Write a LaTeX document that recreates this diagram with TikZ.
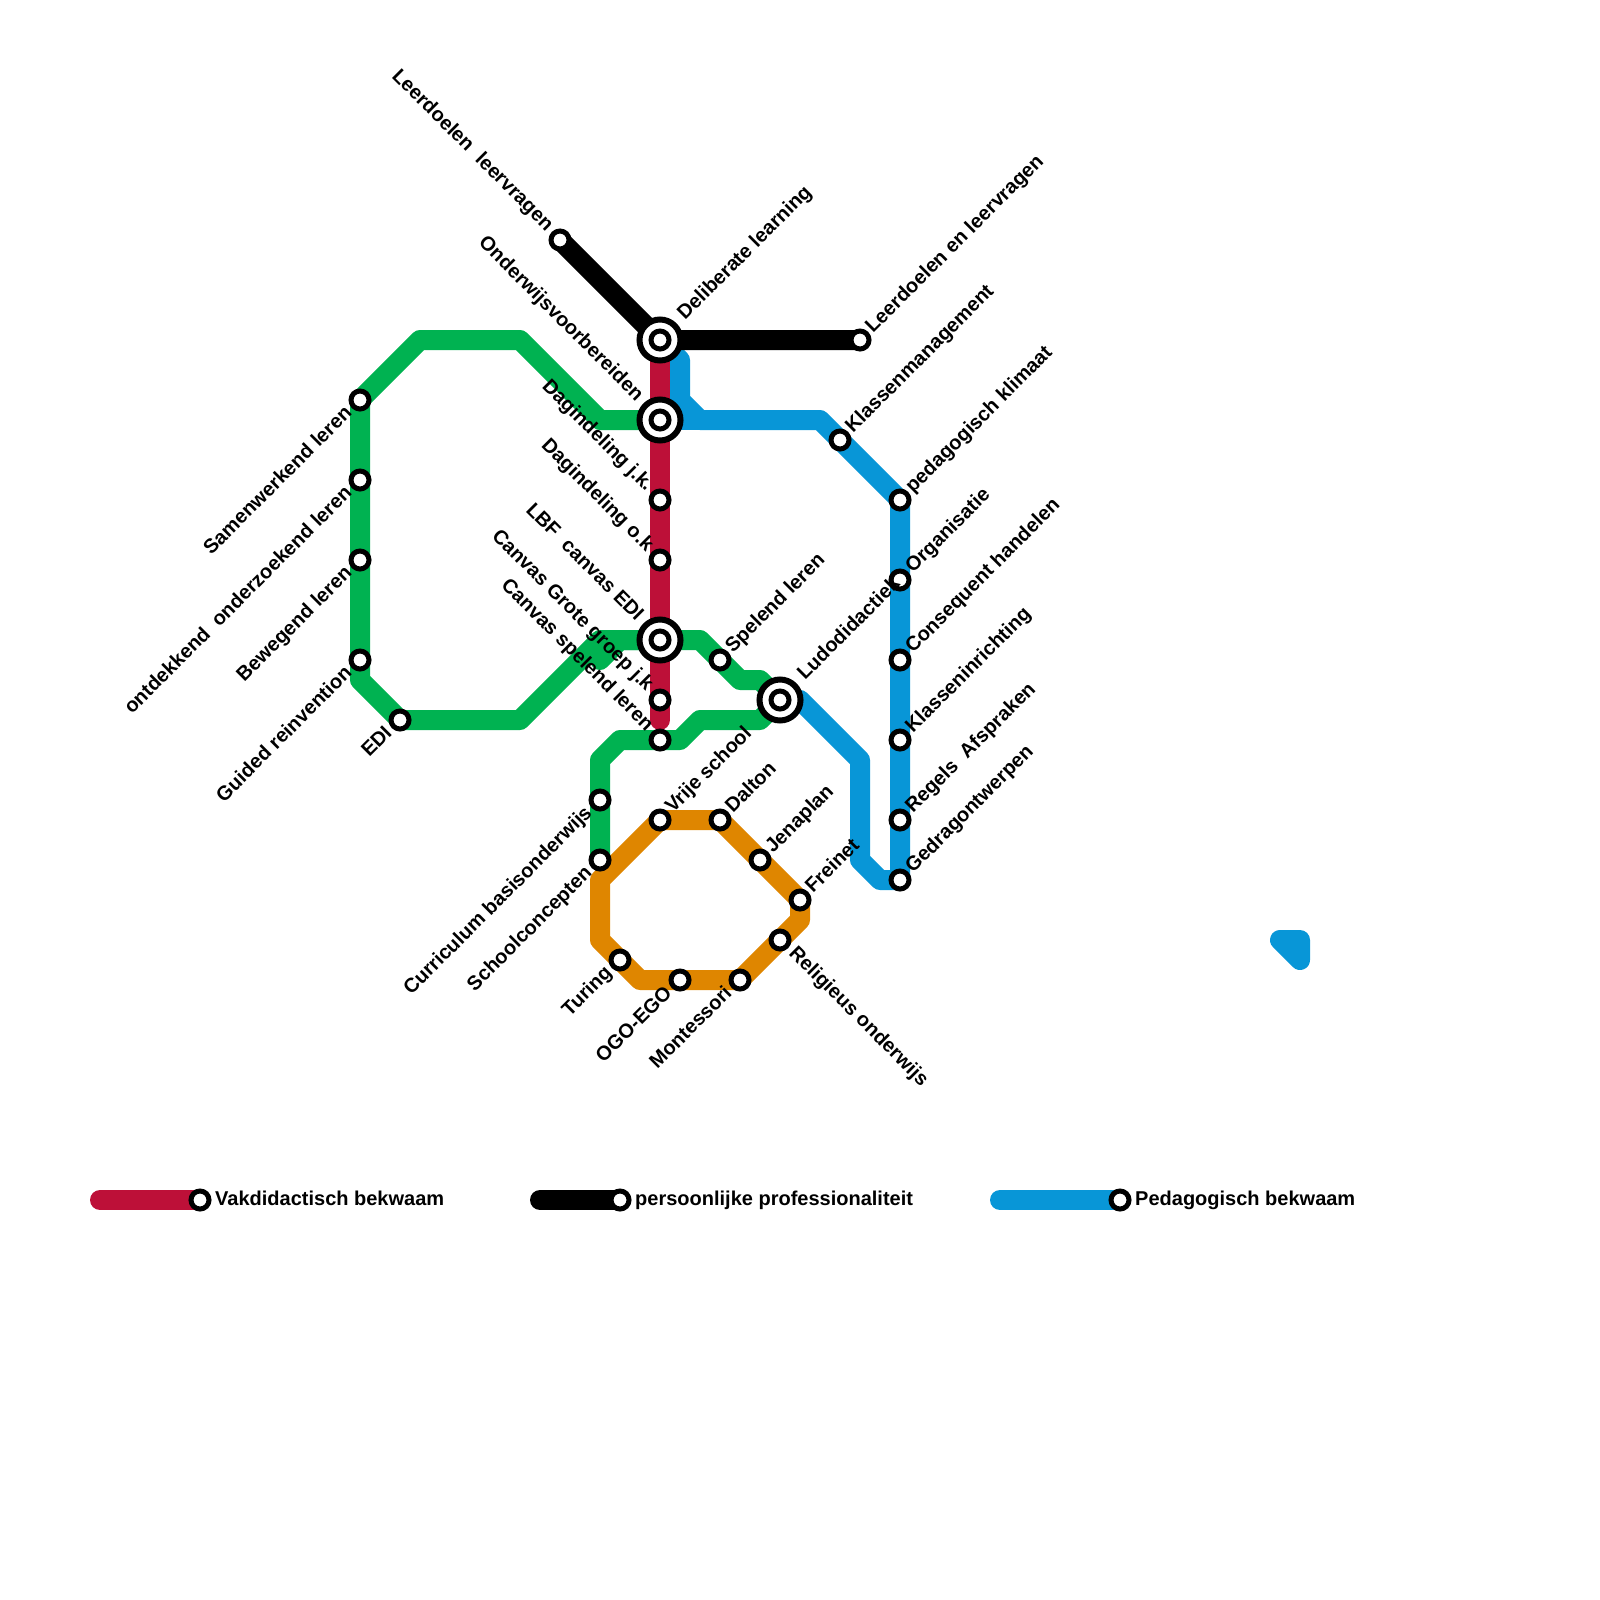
\documentclass[tikz,border=0pt]{standalone}
\usepackage{fontspec}
\setmainfont{Liberation Sans}
\pgfdeclarelayer{bg}
\pgfsetlayers{bg,main}
\definecolor{cred}{HTML}{BD1038}
\definecolor{cblue}{HTML}{0896D7}
\definecolor{cgreen}{HTML}{00B251}
\definecolor{corange}{HTML}{DF8600}
\tikzset{
  ln/.style={line width=20bp,line cap=round,line join=round},
  st/.style={circle,draw=black,fill=white,line width=5bp,minimum size=18bp,inner sep=0pt,outer sep=0pt},
  big/.style={circle,draw=black,fill=white,line width=6bp,minimum size=41bp,inner sep=0pt,outer sep=0pt},
  txt/.style={font=\fontsize{20bp}{24bp}\selectfont\bfseries,inner sep=0pt,text=black},
  ne/.style={txt,rotate=45,anchor=base west},
  nw/.style={txt,rotate=-45,anchor=base east},
  sw/.style={txt,rotate=45,anchor=base east},
  se/.style={txt,rotate=-45,anchor=base west},
  lg/.style={txt,anchor=base west},
}
\newcommand{\NE}[2]{\node[ne] at ([shift={(13,-6)}]#1.center) {#2};}
\newcommand{\NEb}[2]{\node[ne] at ([shift={(25,-19)}]#1.center) {#2};}
\newcommand{\NW}[2]{\node[nw] at ([shift={(-14,-8)}]#1.center) {#2};}
\newcommand{\NWb}[2]{\node[nw] at ([shift={(-24,-18)}]#1.center) {#2};}
\newcommand{\SW}[2]{\node[sw] at ([shift={(-7,14)}]#1.center) {#2};}
\newcommand{\SE}[2]{\node[se] at ([shift={(8,14)}]#1.center) {#2};}
\begin{document}
\begin{tikzpicture}[x=1bp,y=-1bp]
\useasboundingbox (0,0) rectangle (1600,1600);
% interchanges
\node[big] (Ia) at (660,340) {}; \node[st] (ia) at (660,340) {};
\node[big] (Ib) at (660,420) {}; \node[st] (ib) at (660,420) {};
\node[big] (Ic) at (660,640) {}; \node[st] (ic) at (660,640) {};
\node[big] (Id) at (780,700) {}; \node[st] (id) at (780,700) {};
% black
\node[st] (k1) at (560,240) {};
\node[st] (k2) at (860,340) {};
% red
\node[st] (r1) at (660,500) {};
\node[st] (r2) at (660,560) {};
\node[st] (r3) at (660,700) {};
\coordinate (rend) at (660,720);
% blue
\node[st] (b1) at (840,440) {};
\node[st] (b2) at (900,500) {};
\node[st] (b3) at (900,580) {};
\node[st] (b4) at (900,660) {};
\node[st] (b5) at (900,740) {};
\node[st] (b6) at (900,820) {};
\node[st] (b7) at (900,880) {};
% green
\node[st] (g1) at (360,400) {};
\node[st] (g2) at (360,480) {};
\node[st] (g3) at (360,560) {};
\node[st] (g4) at (360,660) {};
\node[st] (g5) at (400,720) {};
\node[st] (g6) at (720,660) {};
\node[st] (g7) at (660,740) {};
\node[st] (g8) at (600,800) {};
\node[st] (g9) at (600,860) {};
% orange
\node[st] (o1) at (660,820) {};
\node[st] (o2) at (720,820) {};
\node[st] (o3) at (760,860) {};
\node[st] (o4) at (800,900) {};
\node[st] (o5) at (780,940) {};
\node[st] (o6) at (740,980) {};
\node[st] (o7) at (680,980) {};
\node[st] (o8) at (620,960) {};
% legend
\coordinate (l1) at (100,1200); \node[st] (l2) at (200,1200) {};
\coordinate (l3) at (540,1200); \node[st] (l4) at (620,1200) {};
\coordinate (l5) at (1000,1200); \node[st] (l6) at (1120,1200) {};
% bends
\coordinate (ba) at (680,360); \coordinate (bb) at (680,400); \coordinate (bc) at (700,420);
\coordinate (bd) at (820,420); \coordinate (be) at (900,880); \coordinate (bf) at (880,880);
\coordinate (bg) at (860,860); \coordinate (bh) at (860,760); \coordinate (bi) at (800,700);
\coordinate (na) at (1280,940); \coordinate (nb) at (1300,940); \coordinate (nc) at (1300,960);
\coordinate (ga) at (420,340); \coordinate (gb) at (520,340); \coordinate (gc) at (600,420);
\coordinate (gd) at (360,680); \coordinate (ge) at (520,720); \coordinate (gf) at (600,640);
\coordinate (gg) at (600,660); \coordinate (gh) at (620,640); \coordinate (gi) at (700,640);
\coordinate (gj) at (740,680); \coordinate (gk) at (760,680); \coordinate (gl) at (760,720);
\coordinate (gm) at (700,720); \coordinate (gn) at (680,740); \coordinate (go) at (620,740);
\coordinate (gp) at (600,760);
\coordinate (oa) at (600,880); \coordinate (ob) at (800,920); \coordinate (oc) at (640,980);
\coordinate (od) at (600,940);
\begin{pgfonlayer}{bg}
\draw[ln,cblue] (ia.center) -- (ba) -- (bb) -- (bc) -- (bd) -- (b2.center) -- (b7.center) -- (bf) -- (bg) -- (bh) -- (bi);
\draw[ln,cblue] (ib.center) -- (bc);
\draw[ln,cblue,fill=cblue] (na) -- (nb) -- (nc) -- cycle;
\draw[ln,cblue] (l5) -- (l6.center);
\draw[ln,cgreen] (ib.center) -- (gc) -- (gb) -- (ga) -- (g1.center) -- (gd) -- (g5.center) -- (ge) -- (gf) -- (ic.center);
\draw[ln,cgreen] (gg) -- (gh) -- (gi) -- (gj) -- (gk) -- (id.center) -- (gl) -- (gm) -- (gn) -- (go) -- (gp) -- (g9.center);
\draw[ln,corange] (oa) -- (o1.center) -- (o2.center) -- (o4.center) -- (ob) -- (o6.center) -- (oc) -- (od) -- cycle;
\draw[ln,cred] (ia.center) -- (rend);
\draw[ln,cred] (l1) -- (l2.center);
\draw[ln,black] (k1.center) -- (ia.center) -- (k2.center);
\draw[ln,black] (l3) -- (l4.center);
\end{pgfonlayer}
% labels
\NEb{Ia}{Deliberate learning}
\NE{k2}{Leerdoelen en leervragen}
\NE{b1}{Klassenmanagement}
\NE{b2}{pedagogisch klimaat}
\NE{b3}{Organisatie}
\NE{b4}{Consequent handelen}
\NE{b5}{Klasseninrichting}
\NE{b6}{Regels\ \ Afspraken}
\NE{b7}{Gedragontwerpen}
\NE{g6}{Spelend leren}
\NEb{Id}{Ludodidactiek}
\NE{o1}{Vrije school}
\NE{o2}{Dalton}
\NE{o3}{Jenaplan}
\NE{o4}{Freinet}
\NW{k1}{Leerdoelen\ \ leervragen}
\NWb{Ib}{Onderwijsvoorbereiden}
\NW{r1}{Dagindeling j.k.}
\NW{r2}{Dagindeling o.k}
\NWb{Ic}{LBF\ \ canvas EDI}
\NW{r3}{Canvas Grote groep j.k}
\NW{g7}{Canvas spelend leren}
\SW{g1}{Samenwerkend leren}
\SW{g2}{ontdekkend\ \ onderzoekend leren}
\SW{g3}{Bewegend leren}
\SW{g4}{Guided reinvention}
\SW{g5}{EDI}
\SW{g8}{Curriculum basisonderwijs}
\SW{g9}{Schoolconcepten}
\SW{o8}{Turing}
\SW{o7}{OGO-EGO}
\SW{o6}{Montessori}
\SE{o5}{Religieus onderwijs}
\node[lg] at ([shift={(15,5)}]l2.center) {Vakdidactisch bekwaam};
\node[lg] at ([shift={(15,5)}]l4.center) {persoonlijke professionaliteit};
\node[lg] at ([shift={(15,5)}]l6.center) {Pedagogisch bekwaam};
\end{tikzpicture}
\end{document}
